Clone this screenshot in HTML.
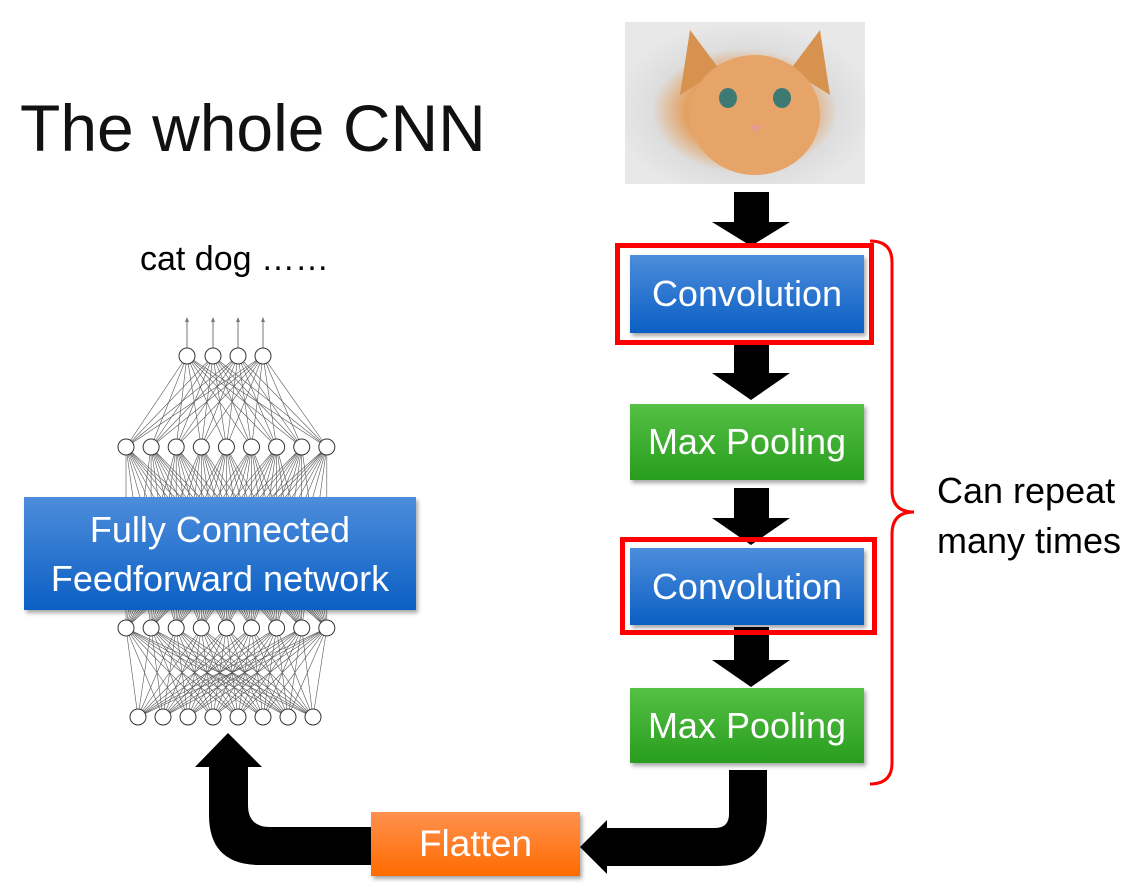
<!DOCTYPE html>
<html><head><meta charset="utf-8"><style>
body{margin:0;width:1135px;height:890px;background:#fff;position:relative;overflow:hidden;font-family:"Liberation Sans",sans-serif}
.t{position:absolute;white-space:nowrap}
.box{position:absolute;color:#fff;display:flex;align-items:center;justify-content:center;text-align:center;font-size:36px;box-shadow:2px 3px 4px rgba(0,0,0,.35)}
.blue{background:linear-gradient(#4d8ddb,#0b5fc4)}
.green{background:linear-gradient(#55c045,#289d1e)}
.orange{background:linear-gradient(#ff914f,#ff6b00)}
.red{position:absolute;border:5px solid #f00;box-sizing:border-box}
</style></head><body>
<div class="t" style="left:20px;top:90px;font-size:66px;color:#111">The whole CNN</div>
<div class="t" style="left:140px;top:240px;font-size:34px;color:#000">cat dog ……</div>
<svg id="nn" width="1135" height="890" style="position:absolute;left:0;top:0"></svg>
<svg width="1135" height="890" style="position:absolute;left:0;top:0">
<defs><radialGradient id="cat" cx="50%" cy="55%" r="55%"><stop offset="0" stop-color="#f3c7a0"/><stop offset=".45" stop-color="#e3a060"/><stop offset=".7" stop-color="#ddd"/><stop offset="1" stop-color="#e8e8e8"/></radialGradient></defs>
<rect x="625" y="22" width="240" height="162" fill="url(#cat)"/>
<polygon points="680,95 690,30 720,70" fill="#d8924f"/><polygon points="830,95 820,30 790,70" fill="#d8924f"/>
<ellipse cx="755" cy="115" rx="65" ry="60" fill="#e6a468"/>
<ellipse cx="728" cy="98" rx="9" ry="10" fill="#3d7a74"/><ellipse cx="782" cy="98" rx="9" ry="10" fill="#3d7a74"/>
<polygon points="750,125 762,125 756,133" fill="#e79a94"/>
<g fill="#000">
<polygon points="734,192 769,192 769,222 790,222 751,246 712,222 734,222"/>
<polygon points="734,345 769,345 769,373 790,373 751,400 712,373 734,373"/>
<polygon points="734,488 769,488 769,518 790,518 751,545 712,518 734,518"/>
<polygon points="734,627 769,627 769,660 790,660 751,687 712,660 734,660"/>
<path d="M209,767 L195,767 L228,733 L262,767 L248,767 L248,805 Q248,827 270,827 L371,827 L371,865 L260,865 Q209,865 209,815 Z"/>
<path d="M729,770 L767,770 L767,816 Q767,866 717,866 L607,866 L607,874 L580,847 L607,820 L607,828 L715,828 Q729,828 729,814 Z"/>
</g>
<path d="M870,241 Q892,241 892,262 L892,490 Q892,512 914,512 Q892,512 892,534 L892,763 Q892,784 870,784" fill="none" stroke="#f00" stroke-width="3"/>
</svg>
<div class="red" style="left:615px;top:243px;width:259px;height:102px"></div>
<div class="box blue" style="left:630px;top:255px;width:234px;height:78px">Convolution</div>
<div class="box green" style="left:630px;top:404px;width:234px;height:76px">Max Pooling</div>
<div class="red" style="left:620px;top:537px;width:257px;height:98px"></div>
<div class="box blue" style="left:630px;top:548px;width:234px;height:77px">Convolution</div>
<div class="box green" style="left:630px;top:688px;width:234px;height:75px">Max Pooling</div>
<div class="box orange" style="left:371px;top:812px;width:209px;height:64px;font-size:37px">Flatten</div>
<div class="box blue" style="left:24px;top:497px;width:392px;height:113px;line-height:49px;font-size:36px">Fully Connected<br>Feedforward network</div>
<div class="t" style="left:937px;top:466px;font-size:36px;line-height:50px;color:#000">Can repeat<br>many times</div>
<script>
var s=document.getElementById('nn'),h='';
function L(a,y){var r=[];for(var i=0;i<a.length;i++)r.push([a[i],y]);return r}
var out=L([187,213,238,263],356),l1=[],l2=[],l3=[];
for(var i=0;i<9;i++){l1.push([126+i*25.1,447]);l2.push([126+i*25.1,628]);}
for(var i=0;i<8;i++)l3.push([138+i*25,717]);
function E(A,B){A.forEach(function(a){B.forEach(function(b){h+='<line x1="'+a[0]+'" y1="'+a[1]+'" x2="'+b[0]+'" y2="'+b[1]+'" stroke="#555" stroke-width="0.6"/>'})})}
E(out,l1);E(l1,l2);E(l2,l3);
out.forEach(function(p){h+='<line x1="'+p[0]+'" y1="320" x2="'+p[0]+'" y2="348" stroke="#777" stroke-width="1"/><polygon points="'+(p[0]-2)+',322 '+(p[0]+2)+',322 '+p[0]+',317" fill="#777"/>'});
[out,l1,l2,l3].forEach(function(L){L.forEach(function(p){h+='<circle cx="'+p[0]+'" cy="'+p[1]+'" r="8" fill="#fff" stroke="#333" stroke-width="1"/>'})});
s.innerHTML=h;
</script>
</body></html>
